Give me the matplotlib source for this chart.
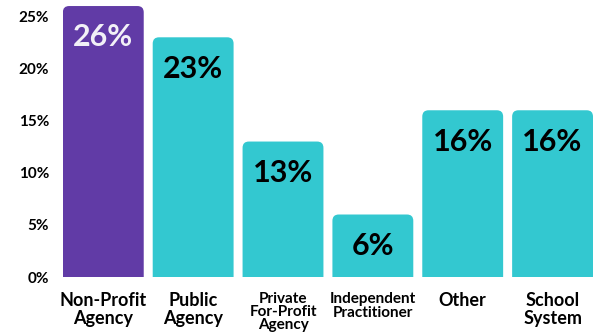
import matplotlib
matplotlib.use("Agg")
import matplotlib.pyplot as plt
from matplotlib.patches import FancyBboxPatch

# Data
categories = ["Non-Profit\nAgency", "Public\nAgency", "Private\nFor-Profit\nAgency",
              "Independent\nPractitioner", "Other", "School\nSystem"]
values = [26, 23, 13, 6, 16, 16]
label_sizes = [13, 13, 11, 11, 13, 13]
label_spacing = [1.05, 1.05, 0.9, 0.95, 1.05, 1.05]

purple = "#613ba6"
teal = "#33c8d0"
colors = [purple] + [teal] * 5
text_colors = ["#f2f0f7"] + ["black"] * 5

plt.rcParams["font.family"] = ["Lato", "DejaVu Sans"]

fig = plt.figure(figsize=(5.93, 3.35), dpi=100)
ax = fig.add_axes([0.106, 0.173, 0.894, 0.809])

width = 0.9
x = list(range(len(values)))
ax.set_xlim(-0.45, len(values) - 0.55)
ax.set_ylim(0, 26)

# aspect so the corner rounding looks circular in pixels
fig.canvas.draw()
bb = ax.get_window_extent()
x_per_px = (ax.get_xlim()[1] - ax.get_xlim()[0]) / bb.width
y_per_px = (ax.get_ylim()[1] - ax.get_ylim()[0]) / bb.height
aspect = y_per_px / x_per_px

for xi, v, c in zip(x, values, colors):
    patch = FancyBboxPatch((xi - width / 2, -2), width, v + 2,
                           boxstyle="round,pad=0,rounding_size=0.07",
                           mutation_aspect=aspect, facecolor=c,
                           edgecolor="none", clip_on=True)
    ax.add_patch(patch)
    ax.annotate(f"{v}%", (xi, v), xytext=(0, -22.5), textcoords="offset points",
                ha="center", va="center", fontsize=22, fontweight="bold",
                color=text_colors[xi])

ax.set_yticks([0, 5, 10, 15, 20, 25])
ax.set_yticklabels([f"{t}%" for t in [0, 5, 10, 15, 20, 25]],
                   fontsize=11, fontweight="bold")
ax.set_xticks(x)
ax.set_xticklabels(categories, fontweight="bold")
for lab, s, ls in zip(ax.get_xticklabels(), label_sizes, label_spacing):
    lab.set_fontsize(s)
    lab.set_linespacing(ls)

ax.tick_params(axis="y", length=0, pad=10)
ax.tick_params(axis="x", length=0, pad=11)
for sp in ax.spines.values():
    sp.set_visible(False)

fig.savefig("out.png", dpi=100)
